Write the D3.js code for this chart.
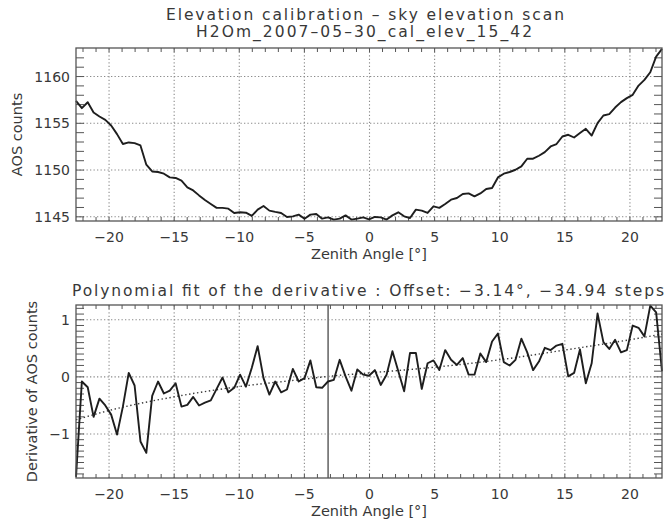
<!DOCTYPE html>
<html>
<head>
<meta charset="utf-8">
<script src="https://cdn.jsdelivr.net/npm/d3@7/dist/d3.min.js"></script>
<style>
  html, body { margin: 0; padding: 0; background: #fff; }
  svg { display: block; font-family: "DejaVu Sans", sans-serif; }
</style>
</head>
<body>
<svg id="chart" width="669" height="525"></svg>
<script>
// ---------- data ----------
const angles = [
  -22.5, -22.05, -21.6, -21.15, -20.7, -20.25, -19.8, -19.35, -18.9, -18.45,
  -18, -17.55, -17.1, -16.65, -16.2, -15.75, -15.3, -14.85, -14.4, -13.95,
  -13.5, -13.05, -12.6, -12.15, -11.7, -11.25, -10.8, -10.35, -9.9, -9.45,
  -9, -8.55, -8.1, -7.65, -7.2, -6.75, -6.3, -5.85, -5.4, -4.95,
  -4.5, -4.05, -3.6, -3.15, -2.7, -2.25, -1.8, -1.35, -0.9, -0.45,
  0, 0.45, 0.9, 1.35, 1.8, 2.25, 2.7, 3.15, 3.6, 4.05,
  4.5, 4.95, 5.4, 5.85, 6.3, 6.75, 7.2, 7.65, 8.1, 8.55,
  9, 9.45, 9.9, 10.35, 10.8, 11.25, 11.7, 12.15, 12.6, 13.05,
  13.5, 13.95, 14.4, 14.85, 15.3, 15.75, 16.2, 16.65, 17.1, 17.55,
  18, 18.45, 18.9, 19.35, 19.8, 20.25, 20.7, 21.15, 21.6, 22.05, 22.5
];

const aosCounts = [
  1157.35, 1156.57, 1157.2, 1156.1, 1155.67, 1155.32, 1154.71, 1153.79, 1152.73, 1152.9,
  1152.83, 1152.58, 1150.52, 1149.8, 1149.74, 1149.56, 1149.16, 1149.1, 1148.81, 1148.1,
  1147.77, 1147.24, 1146.75, 1146.32, 1145.9, 1145.9, 1145.82, 1145.36, 1145.43, 1145.39,
  1145.04, 1145.72, 1146.11, 1145.61, 1145.47, 1145.36, 1144.93, 1145.0, 1145.18, 1144.75,
  1145.18, 1145.25, 1144.75, 1144.89, 1144.65, 1144.75, 1145.1, 1144.65, 1144.75, 1144.89,
  1144.68, 1144.93, 1144.89, 1144.65, 1145.1, 1145.43, 1145.0, 1144.82, 1145.72, 1145.61,
  1145.36, 1146.07, 1145.9, 1146.32, 1146.78, 1146.96, 1147.39, 1147.45, 1147.13, 1147.45,
  1147.92, 1148.03, 1149.16, 1149.56, 1149.74, 1149.98, 1150.34, 1151.16, 1151.16, 1151.48,
  1151.87, 1152.47, 1152.73, 1153.54, 1153.72, 1153.43, 1153.9, 1154.36, 1153.64, 1154.97,
  1155.78, 1155.93, 1156.63, 1157.21, 1157.64, 1157.99, 1158.98, 1159.59, 1160.41, 1162.08, 1162.9
];

const derivative = [
  -1.76, -0.09, -0.19, -0.71, -0.39, -0.51, -0.67, -1.02, -0.53, 0.06,
  -0.16, -1.14, -1.34, -0.34, -0.09, -0.30, -0.25, -0.12, -0.53, -0.50,
  -0.36, -0.51, -0.46, -0.42, -0.22, -0.02, -0.28, -0.20, 0.03, -0.18,
  0.15, 0.53, -0.03, -0.32, -0.09, -0.28, -0.23, 0.13, -0.09, -0.03,
  0.28, -0.19, -0.20, -0.09, -0.06, 0.29, 0.0, -0.25, 0.12, 0.03,
  0.01, 0.11, -0.15, 0.03, 0.44, 0.09, -0.26, 0.41, 0.41, -0.22,
  0.23, 0.28, 0.11, 0.46, 0.29, 0.20, 0.32, 0.03, 0.03, 0.40,
  0.25, 0.61, 0.75, 0.25, 0.19, 0.29, 0.66, 0.42, 0.11, 0.26,
  0.50, 0.46, 0.54, 0.57, 0.0, 0.06, 0.47, -0.12, 0.23, 1.10,
  0.60, 0.48, 0.64, 0.42, 0.46, 0.89, 0.85, 0.70, 1.24, 1.12, 0.09
];

// polynomial fit curve, read at a few angles
const fitAngles = [-22.5, -20, -15, -10, -5, -3.14, 0, 5, 10, 15, 20, 22.5];
const fitValues = [-0.76, -0.60, -0.36, -0.18, -0.05, 0.0, 0.06, 0.16, 0.29, 0.46, 0.64, 0.74];

const offsetAngle = -3.14;

const xDomain = [-22.5, 22.5];
const xTickValues = [-20, -15, -10, -5, 0, 5, 10, 15, 20];
const topYDomain = [1144.5, 1163];
const topYTicks = [1145, 1150, 1155, 1160];
const botYDomain = [-1.78, 1.25];
const botYTicks = [-1, 0, 1];

const titleLine1 = "Elevation calibration – sky elevation scan";
const titleLine2 = "H2Om_2007–05–30_cal_elev_15_42";
const bottomTitle = "Polynomial fit of the derivative : Offset: −3.14°, −34.94 steps";
const xTitle = "Zenith Angle [°]";
const topYTitle = "AOS counts";
const botYTitle = "Derivative of AOS counts";

// ---------- drawing ----------
const svg = d3.select("#chart");
const left = 76, right = 662;
const fmt = d => String(d).replace("-", "−");
const textColor = "#383838";

function panel(cfg) {
  const x = d3.scaleLinear().domain(xDomain).range([left, right]);
  const y = d3.scaleLinear().domain(cfg.yDomain).range([cfg.bottom, cfg.top]);
  const h = cfg.bottom - cfg.top, w = right - left;
  const g = svg.append("g");

  // dotted grid (major ticks)
  const gx = g.append("g").attr("transform", `translate(0,${cfg.bottom})`)
    .call(d3.axisBottom(x).tickValues(xTickValues).tickSize(-h).tickFormat(""));
  const gy = g.append("g").attr("transform", `translate(${left},0)`)
    .call(d3.axisLeft(y).tickValues(cfg.yTicks).tickSize(-w).tickFormat(""));
  [gx, gy].forEach(s => {
    s.select(".domain").remove();
    s.selectAll("line").attr("stroke", "#8a8a8a").attr("stroke-width", 1.1)
      .attr("stroke-dasharray", "1.3,2.2");
  });

  // minor ticks, inward on all four sides
  const minors = [
    [d3.axisBottom(x).tickValues(cfg.xMinor).tickSize(-4), `translate(0,${cfg.bottom})`],
    [d3.axisTop(x).tickValues(cfg.xMinor).tickSize(-4), `translate(0,${cfg.top})`],
    [d3.axisLeft(y).tickValues(cfg.yMinor).tickSize(-8), `translate(${left},0)`],
    [d3.axisRight(y).tickValues(cfg.yMinor).tickSize(-8), `translate(${right},0)`]
  ];
  minors.forEach(([ax, tr]) => {
    const s = g.append("g").attr("transform", tr).call(ax.tickFormat(""));
    s.select(".domain").remove();
    s.selectAll("line").attr("stroke", "#555").attr("stroke-width", 1);
  });

  if (cfg.extra) cfg.extra(g, x, y);

  // data line
  g.append("path")
    .datum(cfg.values.map((v, i) => [angles[i], v]))
    .attr("fill", "none").attr("stroke", "#1e1e1e").attr("stroke-width", 1.9)
    .attr("stroke-linejoin", "round")
    .attr("d", d3.line().x(d => x(d[0])).y(d => y(d[1])));

  // box
  g.append("rect").attr("x", left).attr("y", cfg.top).attr("width", w).attr("height", h)
    .attr("fill", "none").attr("stroke", "#555").attr("stroke-width", 1.3);

  // tick labels
  const lx = g.append("g").attr("transform", `translate(0,${cfg.bottom})`)
    .call(d3.axisBottom(x).tickValues(xTickValues).tickSize(0).tickFormat(fmt));
  lx.select(".domain").remove();
  lx.selectAll("text").attr("y", 21).attr("dy", 0)
    .attr("font-size", 14).attr("fill", textColor).attr("font-family", "DejaVu Sans");
  const ly = g.append("g").attr("transform", `translate(${left},0)`)
    .call(d3.axisLeft(y).tickValues(cfg.yTicks).tickSize(0).tickPadding(6).tickFormat(fmt));
  ly.select(".domain").remove();
  ly.selectAll("text").attr("dy", "0.36em")
    .attr("font-size", 14).attr("fill", textColor).attr("font-family", "DejaVu Sans");

  // axis titles
  g.append("text").attr("x", (left + right) / 2).attr("y", cfg.bottom + 38)
    .attr("text-anchor", "middle").attr("font-size", 14.5).attr("fill", textColor)
    .text(xTitle);
  g.append("text")
    .attr("transform", `translate(${cfg.yTitleX},${(cfg.top + cfg.bottom) / 2}) rotate(-90)`)
    .attr("text-anchor", "middle").attr("font-size", 14.5).attr("fill", textColor)
    .text(cfg.yTitle);
}

panel({
  top: 48, bottom: 221,
  yDomain: topYDomain, yTicks: topYTicks,
  xMinor: d3.range(-22, 23, 1), yMinor: d3.range(1145, 1163, 1),
  values: aosCounts, yTitle: topYTitle, yTitleX: 22
});

panel({
  top: 305, bottom: 478,
  yDomain: botYDomain, yTicks: botYTicks,
  xMinor: d3.range(-22, 23, 1), yMinor: d3.range(-17, 13, 1).map(v => v / 10),
  values: derivative, yTitle: botYTitle, yTitleX: 37,
  extra: (g, x, y) => {
    g.append("path")
      .datum(fitAngles.map((a, i) => [a, fitValues[i]]))
      .attr("fill", "none").attr("stroke", "#3a3a3a").attr("stroke-width", 1.4)
      .attr("stroke-dasharray", "1.4,2.6")
      .attr("d", d3.line().curve(d3.curveMonotoneX).x(d => x(d[0])).y(d => y(d[1])));
    g.append("line")
      .attr("x1", x(offsetAngle)).attr("x2", x(offsetAngle))
      .attr("y1", 305).attr("y2", 478)
      .attr("stroke", "#7a7a7a").attr("stroke-width", 1.8);
  }
});

// titles
svg.append("text").attr("x", 365).attr("y", 20).attr("text-anchor", "middle")
  .attr("font-size", 15.5).attr("fill", textColor)
  .attr("textLength", 398).attr("lengthAdjust", "spacing").text(titleLine1);
svg.append("text").attr("x", 364).attr("y", 37).attr("text-anchor", "middle")
  .attr("font-size", 15.5).attr("fill", textColor)
  .attr("textLength", 336).attr("lengthAdjust", "spacing").text(titleLine2);
svg.append("text").attr("x", 368).attr("y", 296).attr("text-anchor", "middle")
  .attr("font-size", 15.5).attr("fill", textColor)
  .attr("textLength", 592).attr("lengthAdjust", "spacing").text(bottomTitle);
</script>
</body>
</html>
